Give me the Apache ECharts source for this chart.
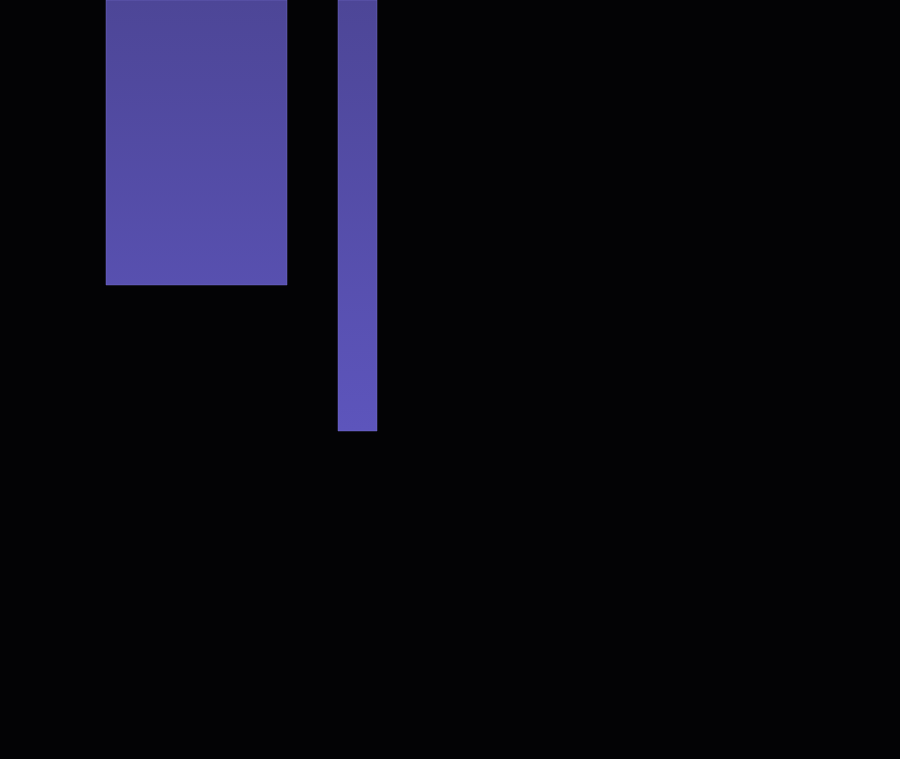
<!DOCTYPE html>
<html>
<head>
<meta charset="utf-8">
<script src="https://cdn.jsdelivr.net/npm/echarts@6/dist/echarts.min.js"></script>
<style>
  html, body { margin: 0; padding: 0; background: #030305; }
  #chart { width: 900px; height: 759px; }
</style>
</head>
<body>
<div id="chart"></div>
<script>
// 两个色块：起点、终点（横向）与高度（自顶向下）
const blockStart = [106, 338];
const blockEnd = [287, 377];
const blockDepth = [285, 431];

const chart = echarts.init(document.getElementById('chart'));

const blocks = blockStart.map((s, i) => [s, blockEnd[i], blockDepth[i]]);

chart.setOption({
    backgroundColor: '#030305',
    animation: false,
    grid: { left: 0, right: 0, top: 0, bottom: 0 },
    xAxis: { type: 'value', min: 0, max: 900, show: false },
    yAxis: { type: 'value', min: 0, max: 759, inverse: true, show: false },
    series: [{
        type: 'custom',
        data: blocks,
        renderItem: function (params, api) {
            const p0 = api.coord([api.value(0), 0]);
            const p1 = api.coord([api.value(1), api.value(2)]);
            return {
                type: 'rect',
                shape: { x: p0[0], y: p0[1], width: p1[0] - p0[0], height: p1[1] - p0[1] },
                style: {
                    // 整体渐变：顶部偏暗，向下逐渐变亮
                    fill: new echarts.graphic.LinearGradient(0, 0, 0, 431, [
                        { offset: 0, color: '#4d4697' },
                        { offset: 1, color: '#5d55bc' }
                    ], true),
                    stroke: 'rgba(120,110,210,0.45)',
                    lineWidth: 1
                }
            };
        }
    }]
});
</script>
</body>
</html>
